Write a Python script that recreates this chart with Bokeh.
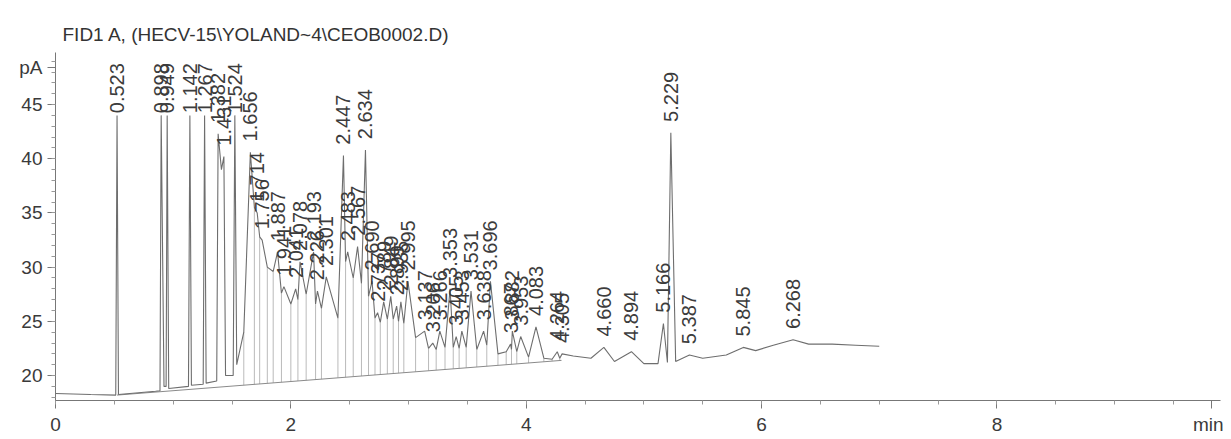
import numpy as np
from bokeh.plotting import figure
from bokeh.models import FixedTicker, Range1d
from bokeh.embed import file_html
from bokeh.resources import INLINE
from bokeh.core.properties import value

# ---- data ----
peak_rt = [0.523, 0.898, 0.949, 1.142, 1.267, 1.382, 1.431, 1.524, 1.656, 1.714,
           1.756, 1.887, 1.941, 2.041, 2.078, 2.193, 2.226, 2.301, 2.447, 2.483,
           2.567, 2.634, 2.690, 2.737, 2.789, 2.849, 2.899, 2.935, 2.995, 3.137,
           3.206, 3.266, 3.353, 3.405, 3.453, 3.531, 3.638, 3.696, 3.867, 3.882,
           3.953, 4.083, 4.264, 4.305, 4.660, 4.894, 5.166, 5.229, 5.387, 5.845,
           6.268]
peak_pa = [44.0, 44.0, 44.0, 44.0, 44.0, 42.3, 40.2, 44.0, 40.6, 35.0,
           32.5, 31.4, 28.2, 28.0, 30.5, 31.4, 27.8, 29.1, 40.3, 31.4,
           31.9, 40.8, 28.7, 25.8, 26.8, 27.3, 26.4, 26.8, 28.7, 24.1,
           23.0, 24.1, 28.0, 23.6, 24.1, 27.8, 24.1, 28.7, 22.9, 24.1,
           23.6, 24.5, 22.2, 22.0, 22.6, 22.2, 24.8, 42.4, 21.9, 22.6,
           23.3]

valley_t = [0.00, 0.30, 0.512, 0.535, 0.85, 0.888, 0.922, 0.94, 0.962, 1.13,
            1.155, 1.255, 1.28, 1.37, 1.41, 1.445, 1.51, 1.54, 1.60, 1.69,
            1.735, 1.80, 1.85, 1.92, 2.00, 2.06, 2.13, 2.21, 2.26, 2.40,
            2.465, 2.53, 2.60, 2.66, 2.715, 2.76, 2.82, 2.87, 2.915, 2.96,
            3.06, 3.17, 3.235, 3.31, 3.38, 3.43, 3.49, 3.58, 3.665, 3.76,
            3.83, 3.875, 3.92, 4.02, 4.15, 4.22, 4.285, 4.40, 4.55, 4.75,
            5.00, 5.12, 5.20, 5.27, 5.50, 5.70, 5.95, 6.10, 6.40, 6.60,
            6.80, 7.00]
valley_pa = [18.35, 18.25, 18.2, 18.25, 18.55, 18.6, 19.0, 19.0, 18.8, 19.0,
             19.1, 19.2, 19.3, 19.5, 39.0, 20.0, 20.0, 21.0, 24.0, 35.5,
             32.8, 30.0, 29.6, 27.6, 26.6, 27.0, 27.5, 26.6, 26.2, 25.3,
             30.5, 29.0, 28.5, 27.3, 25.3, 24.9, 25.2, 25.2, 25.0, 24.8,
             23.5, 22.5, 22.4, 22.6, 22.6, 22.5, 22.6, 22.4, 22.8, 22.0,
             22.2, 22.4, 22.2, 21.7, 21.6, 21.5, 21.6, 21.8, 21.6, 21.3,
             21.1, 21.1, 21.2, 21.3, 21.6, 21.9, 22.3, 22.8, 22.9, 22.9,
             22.8, 22.7]

baseline_t = [0.523, 4.30]
baseline_pa = [18.2, 21.4]

x_ticks = [0, 2, 4, 6, 8]
y_ticks = [20, 25, 30, 35, 40, 45]
title_text = "FID1 A,  (HECV-15\\YOLAND~4\\CEOB0002.D)"

# ---- figure ----
FONT = "Liberation Sans"
W, H = 1223, 437
p = figure(width=W, height=H, output_backend="svg", toolbar_location=None,
           x_range=Range1d(0, 9.9), y_range=Range1d(17.7, 49.8),
           min_border_left=55, min_border_right=3, min_border_top=52,
           min_border_bottom=37)
p.grid.visible = False
p.outline_line_color = None
p.background_fill_color = "white"
p.border_fill_color = "white"

p.title.text = title_text
p.title.text_font = FONT
p.title.text_font_size = "19px"
p.title.text_font_style = "normal"
p.title.text_color = "#333333"
p.title.offset = 7
p.title.standoff = 16

# trace: valleys and apexes merged in time order
tt = np.array(valley_t + peak_rt)
yy = np.array(valley_pa + peak_pa)
order = np.argsort(tt)
tt, yy = tt[order], yy[order]

# drop lines from valleys in the unresolved region to the integration baseline
vt = np.array(valley_t)
vy = np.array(valley_pa)
mask = (vt >= 1.58) & (vt <= 4.3)
dt = vt[mask]
dy = vy[mask]
db = np.interp(dt, baseline_t, baseline_pa)
p.segment(x0=dt, y0=dy, x1=dt, y1=db, line_color="#a8a8a8", line_width=0.8)

p.line(baseline_t, baseline_pa, line_color="#8a8a8a", line_width=1)
p.line(tt, yy, line_color="#6e6e6e", line_width=1.1)

# peak labels
lab_y = [min(h + 1.0, 44.2) for h in peak_pa]
labels = [f"{t:.3f}" for t in peak_rt]
p.text(x=peak_rt, y=lab_y, text=labels, angle=np.pi / 2,
       text_align="left", text_baseline="middle",
       text_font=value(FONT), text_font_size="20px", text_color="#3c3c3c")

# axes
xa = p.xaxis[0]
xa.ticker = FixedTicker(ticks=x_ticks + [9.82],
                        minor_ticks=list(np.arange(0, 10.0, 0.5)))
xa.major_label_overrides = {9.82: "min"}
ya = p.yaxis[0]
ya.ticker = FixedTicker(ticks=y_ticks + [48.4], minor_ticks=list(range(18, 50)))
ya.major_label_overrides = {48.4: "pA"}
for ax in (xa, ya):
    ax.axis_line_color = "#777777"
    ax.major_tick_line_color = "#777777"
    ax.minor_tick_line_color = "#999999"
    ax.major_tick_in = 0
    ax.major_tick_out = 8
    ax.minor_tick_in = 0
    ax.minor_tick_out = 4
    ax.major_label_text_font = FONT
    ax.major_label_text_font_size = "19px"
    ax.major_label_text_color = "#3a3a3a"
    ax.major_label_standoff = 5

open("out.html", "w").write(file_html(p, INLINE))
